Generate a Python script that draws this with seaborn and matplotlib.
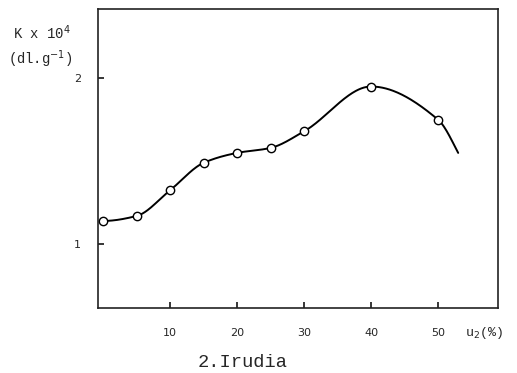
import numpy as np
import pandas as pd
import matplotlib
matplotlib.use("Agg")
import matplotlib.pyplot as plt
import seaborn as sns

# Data
u2 = [0, 5, 10, 15, 20, 25, 30, 40, 50]
K = [1.14, 1.17, 1.325, 1.49, 1.55, 1.58, 1.68, 1.95, 1.75]
# fitted curve continues a bit past the last point
curve_end_x = [53]
curve_end_y = [1.55]
xticks = [10, 20, 30, 40, 50]
yticks = [1, 2]


def pchip(x, y, xs):
    x = np.asarray(x, float); y = np.asarray(y, float)
    h = np.diff(x); d = np.diff(y) / h
    n = len(x)
    m = np.zeros(n)
    for k in range(1, n - 1):
        if d[k - 1] * d[k] <= 0:
            m[k] = 0.0
        else:
            w1 = 2 * h[k] + h[k - 1]; w2 = h[k] + 2 * h[k - 1]
            m[k] = (w1 + w2) / (w1 / d[k - 1] + w2 / d[k])
    def end(h0, h1, d0, d1):
        s = ((2 * h0 + h1) * d0 - h0 * d1) / (h0 + h1)
        if np.sign(s) != np.sign(d0):
            s = 0.0
        elif np.sign(d0) != np.sign(d1) and abs(s) > abs(3 * d0):
            s = 3 * d0
        return s
    m[0] = end(h[0], h[1], d[0], d[1])
    m[-1] = end(h[-1], h[-2], d[-1], d[-2])
    out = np.empty_like(xs)
    for j, xv in enumerate(xs):
        i = min(max(np.searchsorted(x, xv) - 1, 0), n - 2)
        t = (xv - x[i]) / h[i]
        h00 = 2 * t**3 - 3 * t**2 + 1
        h10 = t**3 - 2 * t**2 + t
        h01 = -2 * t**3 + 3 * t**2
        h11 = t**3 - t**2
        out[j] = h00 * y[i] + h10 * h[i] * m[i] + h01 * y[i + 1] + h11 * h[i] * m[i + 1]
    return out


kx = u2 + curve_end_x
ky = K + curve_end_y
xs = np.linspace(kx[0], kx[-1], 400)
ys = pchip(kx, ky, xs)
curve = pd.DataFrame({"x": xs, "y": ys})
pts = pd.DataFrame({"u2": u2, "K": K})

sns.set_style("ticks")
plt.rcParams["font.family"] = ["DejaVu Sans"]

fig = plt.figure(figsize=(5.17, 3.73), dpi=100)
ax = fig.add_axes([0.189, 0.174, 0.775, 0.801])

sns.lineplot(data=curve, x="x", y="y", ax=ax, color="black", linewidth=1.4, sort=False)
sns.scatterplot(data=pts, x="u2", y="K", ax=ax, s=36, facecolor="white",
                edgecolor="black", linewidth=1.0, zorder=3)

ax.set_xlim(-0.8, 59)
ax.set_ylim(0.615, 2.415)
ax.set_xticks(xticks)
ax.set_yticks(yticks)
ax.set_xticklabels([str(t) for t in xticks], fontsize=8)
ax.set_yticklabels([str(t) for t in yticks], fontsize=8)
ax.tick_params(direction="in", length=4, width=1.1, color="black")
ax.tick_params(axis="x", pad=14)
ax.tick_params(axis="y", pad=12)
for s in ax.spines.values():
    s.set_linewidth(1.2)
    s.set_color("#222222")
ax.set_xlabel("")
ax.set_ylabel("")

mono = "Liberation Mono"
fig.text(0.08, 0.912, r"K x 10$^4$", fontsize=10, family=mono, ha="center", va="center")
fig.text(0.077, 0.84, r"(dl.g$^{-1}$)", fontsize=10, family=mono, ha="center", va="center")
fig.text(0.937, 0.107, r"u$_2$(%)", fontsize=9.5, family=mono, ha="center", va="center")
fig.text(0.47, 0.027, "2.Irudia", fontsize=13.5, family=mono, ha="center", va="center")

fig.savefig("out.png", dpi=100)
